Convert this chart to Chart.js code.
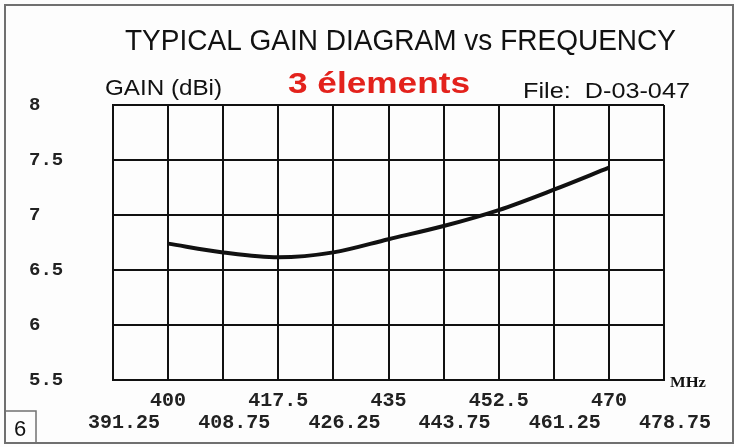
<!DOCTYPE html>
<html>
<head>
<meta charset="utf-8">
<script src="https://cdn.jsdelivr.net/npm/chart.js@4/dist/chart.umd.min.js"></script>
<style>
  html, body { margin: 0; padding: 0; background: #fdfdfd; }
  #wrap { width: 734px; height: 447px; position: relative; }
</style>
</head>
<body>
<div id="wrap"><canvas id="gainChart" width="734" height="447"></canvas></div>
<script>
// data
const freqTicks = [391.25, 400, 408.75, 417.5, 426.25, 435, 443.75, 452.5, 461.25, 470, 478.75];
const gainTicks = [5.5, 6, 6.5, 7, 7.5, 8];
const freqs = [400, 408.75, 417.5, 426.25, 435, 443.75, 452.5, 461.25, 470];
const gain = [6.74, 6.66, 6.615, 6.66, 6.78, 6.90, 7.045, 7.23, 7.43];

// squeeze a string into a given width (the print uses a condensed face)
function fitText(ctx, txt, x, y, w) {
  const m = ctx.measureText(txt).width;
  ctx.save();
  ctx.translate(x, y);
  ctx.scale(w / m, 1);
  ctx.fillText(txt, 0, 0);
  ctx.restore();
}

const decor = {
  id: 'decor',
  beforeDraw(chart) {
    const ctx = chart.ctx;
    ctx.save();
    ctx.fillStyle = '#fdfdfd';
    ctx.fillRect(0, 0, chart.width, chart.height);
    ctx.restore();
  },
  afterDraw(chart) {
    const ctx = chart.ctx;
    ctx.save();
    // outer frame + page number box
    ctx.strokeStyle = '#707070';
    ctx.lineWidth = 2;
    ctx.strokeRect(5, 5, 728, 438);
    ctx.lineWidth = 1.5;
    ctx.strokeRect(5, 411, 31, 32);
    ctx.fillStyle = '#111';
    ctx.font = '22px "Liberation Sans"';
    ctx.textAlign = 'left';
    ctx.textBaseline = 'alphabetic';
    ctx.fillText('6', 14, 436);

    ctx.fillStyle = '#111';
    ctx.font = '29px "Liberation Sans"';
    fitText(ctx, 'TYPICAL GAIN DIAGRAM vs FREQUENCY', 125, 50, 551);
    ctx.font = '22px "Liberation Sans"';
    fitText(ctx, 'GAIN (dBi)', 105, 95, 117);
    fitText(ctx, 'File:  D-03-047', 523, 98, 167);
    ctx.fillStyle = '#e3221c';
    ctx.font = 'bold 30px "Liberation Sans"';
    fitText(ctx, '3 élements', 288, 93, 182);

    ctx.fillStyle = '#111';
    ctx.font = 'bold 15px "Liberation Serif"';
    fitText(ctx, 'MHz', 670, 387, 36);
    ctx.restore();
  }
};

const tickFont = { family: '"Liberation Mono"', size: 20, weight: 'bold', lineHeight: 1.05 };

new Chart(document.getElementById('gainChart'), {
  type: 'line',
  data: {
    datasets: [{
      data: freqs.map((f, i) => ({ x: f, y: gain[i] })),
      borderColor: '#111',
      borderWidth: 4,
      pointRadius: 0,
      fill: false,
      cubicInterpolationMode: 'monotone'
    }]
  },
  options: {
    responsive: false,
    animation: false,
    devicePixelRatio: 1,
    layout: { padding: { left: 29, right: 70, top: 105, bottom: 13 } },
    plugins: { legend: { display: false }, tooltip: { enabled: false } },
    scales: {
      x: {
        type: 'linear',
        position: 'bottom',
        min: freqTicks[0],
        max: freqTicks[freqTicks.length - 1],
        afterBuildTicks: s => { s.ticks = freqTicks.map(v => ({ value: v })); },
        afterFit: s => { s.height = 32; },
        grid: { color: '#111', lineWidth: 2, drawTicks: false },
        border: { color: '#111', width: 2 },
        ticks: {
          autoSkip: false,
          minRotation: 0,
          maxRotation: 0,
          padding: 10,
          color: '#222',
          font: tickFont,
          callback: (v, i) => i % 2 === 1 ? String(freqTicks[i]) : ''
        }
      },
      // second row of frequency labels, printed a little to the right
      x2: {
        type: 'linear',
        position: 'bottom',
        min: freqTicks[0],
        max: freqTicks[freqTicks.length - 1],
        afterBuildTicks: s => { s.ticks = freqTicks.map(v => ({ value: v })); },
        afterFit: s => { s.height = 22; },
        grid: { display: false, drawTicks: false },
        border: { display: false },
        ticks: {
          autoSkip: false,
          minRotation: 0,
          maxRotation: 0,
          padding: 0,
          labelOffset: 11,
          color: '#222',
          font: tickFont,
          callback: (v, i) => i % 2 === 0 ? String(freqTicks[i]) : ''
        }
      },
      y: {
        min: gainTicks[0],
        max: gainTicks[gainTicks.length - 1],
        afterBuildTicks: s => { s.ticks = gainTicks.map(v => ({ value: v })); },
        afterFit: s => { s.width = 84; },
        grid: { color: '#111', lineWidth: 2, drawTicks: false },
        border: { color: '#111', width: 2 },
        ticks: {
          crossAlign: 'far',
          padding: 10,
          color: '#222',
          font: { family: '"Liberation Mono"', size: 19, weight: 'bold' },
          callback: v => String(v)
        }
      }
    }
  },
  plugins: [decor]
});
</script>
</body>
</html>
